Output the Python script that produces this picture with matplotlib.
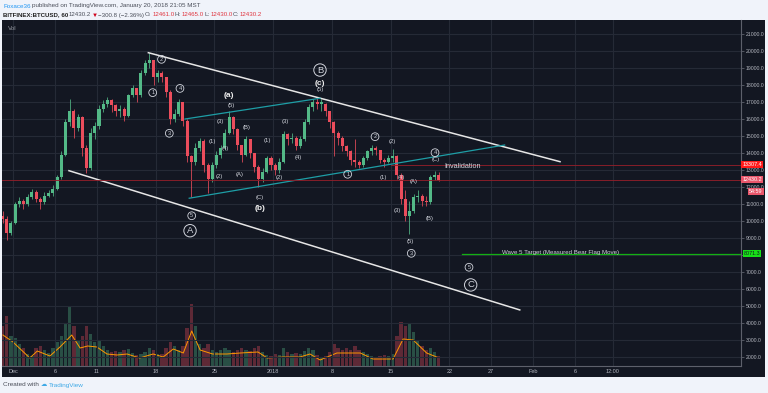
import matplotlib
matplotlib.use('Agg')
import matplotlib.pyplot as plt
import matplotlib.transforms as mtransforms
from matplotlib import font_manager
from matplotlib.patches import Rectangle

W, H = 768, 393

# ---- data (day 0 = Dec 1 2017 00:00, 12h candles) ----
candle_start = -1.5
candle_step = 0.5
first_open = 10300
closes = [10100, 9300, 9900, 11000, 11200, 11000, 11400, 11700, 11300, 11100,
          11500, 11650, 11900, 12600, 13900, 15800, 16500, 15500, 16100, 14300,
          13100, 15200, 15600, 16600, 16900, 17100, 16800, 16500, 16600, 16200,
          17400, 17800, 17400, 18700, 19300, 19500, 18500, 18700, 18500, 17600,
          16000, 16300, 17000, 15900, 13800, 13500, 14300, 14700, 13300, 12500,
          13300, 13900, 14300, 15200, 16100, 15400, 14500, 13900, 14800, 14000,
          13200, 12500, 12900, 13700, 13300, 13000, 13500, 15100, 14800, 14900,
          14400, 14800, 15800, 16700, 17000, 16900, 16900, 16500, 15800, 15200,
          14900, 14400, 14100, 13600, 13500, 13300, 13700, 14100, 14300, 14200,
          13600, 13500, 13700, 13800, 12700, 11300, 10300, 10600, 11400, 11500,
          11200, 11100, 12600, 12700, 12430]
highs = [10600, 10300, 10000, 11100, 11400, 11300, 11600, 11900, 11800, 11400,
         11700, 11800, 12100, 12700, 14100, 16000, 17150, 16600, 16300, 16200,
         14500, 15500, 15800, 16800, 17100, 17300, 17200, 16900, 16800, 16700,
         17500, 18000, 17800, 18900, 19500, 19880, 19500, 18900, 18800, 18500,
         17700, 16600, 17200, 17000, 16000, 13900, 14600, 14900, 14800, 13400,
         13500, 14100, 14500, 15400, 16450, 16200, 15500, 14500, 15000, 14800,
         14000, 13300, 13100, 13800, 13800, 13400, 13700, 15300, 15200, 15200,
         15000, 15000, 16000, 16900, 17200, 17250, 17150, 16950, 16500, 15900,
         15300, 15000, 14500, 14200, 14800, 13600, 13800, 14200, 14450, 14400,
         14200, 13700, 13900, 14250, 13900, 12800, 11800, 11200, 11600, 11800,
         11600, 11500, 12700, 12950, 12900]
lows = [9900, 8880, 9200, 9800, 10800, 10700, 10900, 11300, 11100, 10700,
        11000, 11400, 11500, 11800, 12500, 13800, 15600, 14900, 15300, 13800,
        12800, 13000, 14800, 15400, 16400, 16700, 16400, 16200, 16100, 15900,
        16100, 17300, 17000, 17300, 18600, 19000, 18000, 18200, 18200, 17300,
        15700, 15800, 16200, 15600, 13500, 11400, 13300, 14100, 12900, 11650,
        12300, 13100, 13700, 14200, 15100, 15100, 14200, 13500, 13800, 13700,
        12900, 12000, 12300, 12800, 13000, 12700, 12800, 13400, 14500, 14600,
        14200, 14300, 14700, 15700, 16500, 16600, 16500, 16200, 15500, 13800,
        14500, 14100, 13800, 13300, 13200, 13100, 13200, 13600, 13900, 13900,
        13400, 13200, 13400, 13500, 12500, 11000, 10000, 9250, 10500, 11100,
        10900, 10900, 11000, 12400, 12350]
volume = [40, 50, 30, 28, 22, 18, 12, 10, 18, 20, 16, 13, 18, 24, 30, 42, 60, 40, 26, 30,
          40, 32, 24, 26, 20, 16, 14, 15, 14, 16, 17, 13, 11, 12, 14, 18, 16, 12, 12, 18,
          24, 20, 16, 20, 38, 62, 40, 22, 18, 22, 16, 14, 16, 18, 16, 14, 16, 18, 16, 15,
          18, 20, 14, 11, 10, 12, 11, 18, 14, 12, 13, 12, 15, 18, 16, 11, 9, 10, 14, 22,
          18, 16, 18, 16, 20, 16, 14, 12, 10, 9, 10, 11, 10, 12, 30, 44, 40, 42, 34, 26,
          20, 16, 18, 14, 10]
ma_days = [-1.2, 0, 2, 2.9, 4.4, 5.6, 7.0, 8.0, 8.9, 10, 11.2, 12.4, 13.6, 15.1, 16.7, 17.9,
           19.1, 20.3, 21.3, 22.3, 23.8, 25.5, 27.1, 29.2, 30.3, 32.2, 34.2, 35.4, 36.6,
           38.6, 41.4, 42.9, 45.3, 46.5, 47.7, 49.3, 50.5]
ma_vals = [31, 24, 8, 15, 10, 19, 31, 18, 20, 19, 12, 11, 12, 8, 12, 9, 17, 13, 35, 16,
           12, 12, 13, 14, 8, 9, 9, 12, 6, 13, 13, 7, 7, 27, 26, 13, 9]

tick_days = [0, 5, 10, 17, 24, 31, 38, 45, 52, 57, 62, 67, 71.5]
tick_labels = ['Dec', '6', '11', '18', '25', '2018', '8', '15', '22', '27', 'Feb', '6', '12:00']
price_ticks = list(range(2000, 22000, 1000))

# drawings
upper_channel = ([16.13, 65.2], [19900, 13490])
lower_channel = ([6.67, 60.4], [12960, 4770])
teal_upper = ([20.5, 36.6], [16000, 17220])
teal_lower = ([21.0, 58.6], [11340, 14470])
invalid_level, invalid_from = 13307.4, 45.0
last_price = 12430.2
target_level, target_from = 8071.3, 53.5

circled_small = [('1', 16.65, 17550), ('2', 17.7, 19510), ('3', 18.63, 15160), ('4', 19.9, 17800),
                 ('5', 21.3, 10310), ('1', 39.89, 12750), ('2', 43.15, 14960), ('3', 47.47, 8100),
                 ('4', 50.3, 14020), ('5', 54.35, 7280)]
circled_big = [('A', 21.1, 9430), ('B', 36.59, 18880), ('C', 54.55, 6240)]
paren = [('(5)', 25.98, 16820), ('(3)', 24.67, 15840), ('(1)', 23.8, 14670), ('(4)', 25.35, 14280),
         ('(B)', 27.85, 15510), ('(A)', 26.97, 12750), ('(2)', 24.55, 12610), ('(C)', 29.36, 11400),
         ('(1)', 30.31, 14720), ('(2)', 31.74, 12550), ('(3)', 32.5, 15840), ('(4)', 34.05, 13750),
         ('(5)', 36.59, 17750), ('(1)', 44.14, 12550), ('(2)', 45.21, 14670), ('(4)', 46.33, 12550),
         ('(A)', 47.71, 12350), ('(3)', 45.77, 10610), ('(5)', 47.32, 8820), ('(B)', 49.7, 10160),
         ('(C)', 50.38, 13590)]
bold_labels = [('(a)', 25.78, 17370), ('(b)', 29.44, 10750), ('(c)', 36.59, 18100)]

# ---- style ----
names = {f.name for f in font_manager.fontManager.ttflist}
NARROW = 'Liberation Sans Narrow' if 'Liberation Sans Narrow' in names else 'Liberation Sans'
plt.rcParams['font.family'] = [NARROW, 'DejaVu Sans']

BG = '#131722'
GRID = '#252a36'
TXT = '#d1d4dc'
AXT = '#b2b5be'
UP = '#53b987'
DOWN = '#eb4d5c'

fig = plt.figure(figsize=(W / 100, H / 100), dpi=100, facecolor='#f0f3fa')
fig.patches.append(Rectangle((2 / W, 1 - 377 / H), 763 / W, 357 / H,
                             transform=fig.transFigure, facecolor=BG, edgecolor='none', zorder=0))

ax_v = fig.add_axes([2 / W, 1 - 366 / H, 739 / W, 346 / H])
ax = fig.add_axes([2 / W, 1 - 366 / H, 739 / W, 346 / H])
for a in (ax, ax_v):
    a.patch.set_visible(False)
ax_v.set_zorder(1)
ax.set_zorder(2)

xmin, xmax = (2 - 13) / 8.39, (741 - 13) / 8.39
ax.set_xlim(xmin, xmax)
ax.set_ylim(21000 - (366 - 34) * 58.82, 21000 + 14 * 58.82)
ax_v.set_xlim(xmin, xmax)
ax_v.set_ylim(0, 346)
ax_v.axis('off')

# grid and scales (the 8000 label sits under the target tag, as on the reference)
ax.set_xticks(tick_days)
ax.set_xticklabels(tick_labels)
ax.set_yticks(price_ticks)
ax.set_yticklabels(['' if v == 8000 else f'{v}.0' for v in price_ticks])
ax.grid(True, color=GRID, linewidth=0.8)
ax.set_axisbelow(True)
ax.yaxis.tick_right()
ax.tick_params(axis='y', colors='#5d606b', labelcolor=AXT, labelsize=3.7, length=2, pad=1.2, width=0.6)
ax.tick_params(axis='x', colors='#5d606b', labelcolor=AXT, labelsize=4.0, length=0, pad=2.5)
for s in ('top', 'left'):
    ax.spines[s].set_visible(False)
for s in ('right', 'bottom'):
    ax.spines[s].set_color('#5d606b')
    ax.spines[s].set_linewidth(0.8)

# volume
opens = [first_open] + closes[:-1]
xs = [candle_start + candle_step * i + candle_step / 2 for i in range(len(closes))]
vcol = [UP if c >= o else DOWN for o, c in zip(opens, closes)]
ax_v.bar(xs, volume, width=candle_step * 0.8, color=vcol, alpha=0.35, linewidth=0)
ax_v.plot(ma_days, ma_vals, color='#ff9800', lw=0.7)

# candles
bodies = [c - o if abs(c - o) > 80 else 80 for o, c in zip(opens, closes)]
ax.vlines(xs, lows, highs, colors=vcol, linewidth=0.55, zorder=3)
ax.bar(xs, bodies, bottom=opens, width=candle_step * 0.72,
       color=vcol, linewidth=0, zorder=4)

# drawings
ax.plot(*upper_channel, color='#e6e6e6', lw=1.1, zorder=5)
ax.plot(*lower_channel, color='#e6e6e6', lw=1.1, zorder=5)
ax.plot(*teal_upper, color='#1e9ea6', lw=0.9, zorder=5)
ax.plot(*teal_lower, color='#1e9ea6', lw=0.9, zorder=5)
ax.plot([invalid_from, xmax], [invalid_level] * 2, color='#8e1e29', lw=0.65, zorder=5)
ax.plot([xmin, xmax], [last_price] * 2, color='#8e1e29', lw=0.65, zorder=5)
ax.plot([target_from, xmax], [target_level] * 2, color='#13b013', lw=0.9, zorder=5)

ax.text(51.4, 13195, 'Invalidation', color=TXT, fontsize=5.2, va='center', ha='left',
        family=['Liberation Sans', 'DejaVu Sans'], zorder=6)
ax.text(65.3, 8170, 'Wave 5 Target (Measured Bear Flag Move)', color=TXT, fontsize=4.4,
        va='center', ha='center', family=['Liberation Sans', 'DejaVu Sans'], zorder=6)

for s, d, p in circled_small:
    ax.text(d, p, s, color=TXT, fontsize=4, ha='center', va='center', zorder=6,
            bbox=dict(boxstyle='circle,pad=0.25', fc='none', ec=TXT, lw=0.6))
for s, d, p in circled_big:
    ax.text(d, p, s, color=TXT, fontsize=6.8, ha='center', va='center', zorder=6,
            bbox=dict(boxstyle='circle,pad=0.18', fc='none', ec=TXT, lw=0.7))
for s, d, p in paren:
    ax.text(d, p, s, color=TXT, fontsize=4.2, ha='center', va='center', zorder=6)
for s, d, p in bold_labels:
    ax.text(d, p, s, color='#eeeeee', fontsize=6, fontweight='bold', ha='center', va='center',
            family=['Liberation Sans', 'DejaVu Sans'], zorder=6)

# price tags on the scale
tr = mtransforms.blended_transform_factory(fig.transFigure, ax.transData)
def tag(x_px, price, text, fc, tc):
    ax.text(x_px / W, price, text, transform=tr, color=tc, fontsize=3.9, ha='center', va='center',
            clip_on=False, zorder=10,
            bbox=dict(boxstyle='square,pad=0.2', fc=fc, ec='none'))

tag(752, invalid_level, '13307.4', '#ff1a1a', 'white')
tag(756, 11760, '54:59', '#e9566b', 'white')
tag(752, last_price, '12430.2', '#e9566b', 'white')
tag(752, target_level, '8071.3', '#17e117', '#131722')

# header / footer
fig.text(8 / W, 1 - 29 / H, 'Vol', color='#9598a1', fontsize=4.5, va='center')

renderer = fig.canvas.get_renderer()
def seq(x_px, y_px, parts, size, gap=1.0):
    x = x_px
    for s, color, weight in parts:
        t = fig.text(x / W, 1 - y_px / H, s, color=color, fontsize=size, fontweight=weight,
                     va='center', ha='left')
        x += t.get_window_extent(renderer).width + gap

DARK = '#4a4e59'
RED = '#e0353f'
seq(3, 6, [('Foxace36', '#2196f3', 'normal'),
           ('published on TradingView.com, January 20, 2018 21:05 MST', DARK, 'normal')], 4.5)
seq(3, 15, [('BITFINEX:BTCUSD, 60', '#222222', 'bold'), ('12430.2', DARK, 'normal'),
            ('\u25bc', '#d0021b', 'normal'), ('\u2212300.8 (\u22122.36%)', DARK, 'normal'),
            ('O:', DARK, 'normal'), ('12461.0', RED, 'normal'), ('H:', DARK, 'normal'),
            ('12465.0', RED, 'normal'), ('L:', DARK, 'normal'), ('12430.0', RED, 'normal'),
            ('C:', DARK, 'normal'), ('12430.2', RED, 'normal')], 4.4, gap=0.6)
seq(3, 385, [('Created with', DARK, 'normal'), ('\u2601', '#3fa9e6', 'normal'),
             ('TradingView', '#3fa9e6', 'normal')], 4.6, gap=2)

fig.savefig('out.png', dpi=100, facecolor=fig.get_facecolor())
